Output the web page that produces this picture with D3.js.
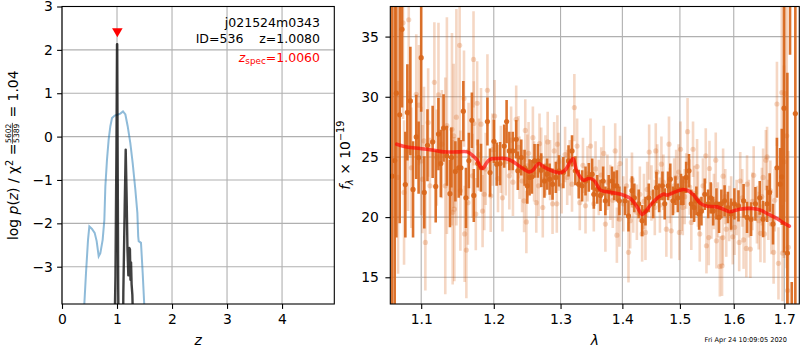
<!DOCTYPE html>
<html>
<head>
<meta charset="utf-8">
<script src="https://cdn.jsdelivr.net/npm/d3@7"></script>
<style>
  body { margin: 0; background: #fff; }
  text { font-family: "DejaVu Sans", sans-serif; }
</style>
</head>
<body>
<svg id="fig" width="800" height="350"></svg>
<script>
// ---------- redshift panel: log p(z) and scaled chi^2 ----------
const chiZ   = [0.40,0.436,0.473,0.497,0.545,0.594,0.63,0.667,0.697,0.739,0.77,0.788,0.818,0.848,0.879,0.909,0.958,1.018,1.06,1.109,1.152,1.194,1.242,1.285,1.333,1.37,1.385,1.394,1.436,1.467,1.50];
const chiVal = [-4.0,-3.15,-2.38,-2.07,-2.13,-2.22,-2.41,-2.76,-2.69,-2.38,-1.92,-1.15,-0.53,-0.07,0.24,0.43,0.485,0.51,0.53,0.58,0.51,0.24,-0.15,-0.61,-1.22,-1.76,-2.3,-2.41,-2.45,-3.15,-4.0];
const pzZ    = [0.955,0.972,0.99,1.0,1.004,1.012,1.022,1.04,1.10,1.115,1.14,1.158,1.175,1.19,1.206,1.215,1.224,1.235,1.245,1.255,1.265,1.279,1.297];
const pzVal  = [-4.5,-3.2,-0.2,2.13,2.13,-0.5,-3.5,-6,-6,-3.6,-1.6,-0.3,-1.4,-2.6,-3.2,-2.9,-2.57,-2.6,-3.3,-2.9,-3.4,-3.65,-4.5];
const zBest = 1.0080, zSpec = 1.0060, markerLevel = 2.43;
const zTicks = [0,1,2,3,4];
const pTicks = [-3,-2,-1,0,1,2,3];

// ---------- spectrum panel ----------
const darkWave = [1.0621,1.0656,1.0677,1.0720,1.0750,1.0793,1.0819,1.0858,1.0893,1.0935,
  1.0966,1.1000,1.1041,1.1083,1.1152,1.1193,1.1230,1.1262,1.1299,1.1344,
  1.1386,1.1405,1.1460,1.1506,1.1537,1.1570,1.1606,1.1647,1.1689,1.1716,
  1.1771,1.1818,1.1909,1.1946,1.2002,1.2042,1.2091,1.2151,1.2186,1.2226,
  1.2276,1.2327,1.2351,1.2402,1.2451,1.2492,1.2526,1.2561,1.2601,1.2651,
  1.2702,1.2751,1.2792,1.2831,1.2876,1.2927,1.2976,1.3044,1.3125,1.3180,
  1.3233,1.3286,1.3341,1.3395,1.3448,1.3503,1.3529,1.3584,1.3638,1.3681,
  1.3718,1.3772,1.3827,1.3864,1.3908,1.3950,1.4045,1.4103,1.4162,1.4202,
  1.4277,1.4336,1.4393,1.4450,1.4527,1.4584,1.4631,1.4689,1.4729,1.4788,
  1.4828,1.4875,1.4920,1.4962,1.5020,1.5063,1.5113,1.5164,1.5206,1.5256,
  1.5299,1.5349,1.5392,1.5454,1.5517,1.5565,1.5610,1.5671,1.5721,1.5764,
  1.5825,1.5888,1.5950,1.6012,1.6091,1.6190,1.6257,1.6336,1.6421,1.6506,
  1.6573,1.6652,1.6704,1.6771,1.6850,1.6915,1.6949,1.6994,1.7062,1.7117,1.7152,1.7226];
const darkFlux = [23.4,24.7,30.3,28.5,35.6,22.7,28.7,29.65,22.3,26.66,
  24.95,33.25,22.05,25.97,26.25,22.55,26.9,24.45,27.4,25.1,
  21.95,24.95,23.8,24.1,24.1,28.8,21.6,24.7,28.05,21.8,
  24.45,24.1,27.94,23.7,26.3,24.4,24.45,25.9,27.94,25.5,
  25.5,26.47,23.85,24.95,24.1,22.6,23.3,23.35,24.67,24.67,
  23.9,23.0,23.57,23.15,22.74,23.3,23.85,23.7,24.67,25.5,
  23.85,22.74,22.6,23.0,23.3,23.57,21.9,22.3,21.8,23.0,
  21.35,22.2,23.0,22.6,22.6,21.35,21.35,20.1,22.2,21.6,
  21.1,19.7,20.5,21.6,21.1,22.46,21.6,22.6,21.1,22.6,
  23.15,21.35,22.2,21.6,22.3,22.2,23.3,23.85,21.1,20.8,
  21.35,20.25,20.5,21.9,21.1,21.6,20.5,21.1,19.97,21.1,
  21.35,20.8,20.25,21.1,20.93,21.35,19.97,19.83,21.1,21.6,
  19.83,21.1,22.05,19.42,24.1,22.74,23.35,29.05,17.0,44,5,28.6];
const darkErr = [15,15,12,9,6.5,4.4,4,4.5,4,3.5,
  3,4.5,3,3,3,3,3,2.8,2.8,2.5,
  2.8,2.5,2.5,2.5,2.3,2.5,2.5,2.3,2.3,2.2,
  2,2,2,2,1.8,1.8,1.8,1.8,1.8,1.6,
  1.6,1.6,1.6,1.5,1.5,1.5,1.5,1.4,1.4,1.4,
  1.4,1.4,1.3,1.3,1.3,1.3,1.3,1.3,1.3,1.3,
  1.2,1.2,1.3,1.2,1.2,1.3,1.2,1.2,1.3,1.2,
  1.2,1.3,1.2,1.2,1.3,1.2,1.2,1.3,1.2,1.2,
  1.2,1.3,1.2,1.2,1.2,1.3,1.2,1.2,1.3,1.2,
  1.3,1.2,1.2,1.2,1.3,1.2,1.3,1.4,1.2,1.2,
  1.2,1.3,1.2,1.3,1.2,1.3,1.2,1.3,1.3,1.2,
  1.3,1.3,1.3,1.3,1.3,1.4,1.3,1.4,1.4,1.4,
  1.5,1.5,1.6,1.7,2.5,3,4,12,15,10.5,9.6,20];

const lightWave = [1.0699,1.0763,1.0776,1.0828,1.0837,1.0871,1.0935,1.0970,1.1000,1.1017,
  1.1037,1.1055,1.1092,1.1116,1.1175,1.1207,1.1230,1.1275,1.1322,1.1344,
  1.1413,1.1423,1.1437,1.1446,1.1474,1.1519,1.1529,1.1579,1.1588,1.1612,
  1.1634,1.1643,1.1698,1.1712,1.1716,1.1744,1.1763,1.1788,1.1818,1.1840,
  1.1864,1.1884,1.1909,1.1956,1.1981,1.2012,1.2061,1.2102,1.2126,1.2174,
  1.2226,1.2252,1.2279,1.2327,1.2361,1.2376,1.2414,1.2444,1.2462,1.2478,
  1.2492,1.2511,1.2576,1.2594,1.2627,1.2661,1.2676,1.2702,1.2726,1.2766,
  1.2801,1.2838,1.2876,1.2901,1.2942,1.2951,1.2969,1.3018,1.3071,1.3104,
  1.3144,1.3180,1.3217,1.3261,1.3303,1.3354,1.3395,1.3427,1.3476,1.3529,
  1.3557,1.3610,1.3650,1.3691,1.3718,1.3751,1.3799,1.3840,1.3880,1.3908,
  1.3929,1.3950,1.3961,1.4016,1.4071,1.4103,1.4132,1.4162,1.4184,1.4245,
  1.4297,1.4336,1.4367,1.4393,1.4423,1.4457,1.4497,1.4555,1.4572,1.4597,
  1.4645,1.4671,1.4706,1.4758,1.4805,1.4819,1.4845,1.4897,1.4932,1.4976,
  1.4990,1.5011,1.5033,1.5052,1.5086,1.5113,1.5138,1.5178,1.5206,1.5238,
  1.5262,1.5312,1.5327,1.5361,1.5420,1.5472,1.5485,1.5528,1.5541,1.5578,
  1.5625,1.5658,1.5671,1.5699,1.5736,1.5777,1.5792,1.5797,1.5838,1.5857,
  1.5913,1.5950,1.5981,1.6016,1.6055,1.6105,1.6125,1.6164,1.6190,1.6243,
  1.6257,1.6292,1.6322,1.6362,1.6387,1.6451,1.6486,1.6520,1.6549,1.6573,
  1.6599,1.6628,1.6652,1.6678,1.6717,1.6737,1.6783,1.6806,1.6850,1.6881,
  1.6949,1.6964,1.6994,1.7014,1.7049,1.7066,1.7082];
const lightFlux = [23.3,36.15,22.05,25.5,36.4,24.1,30.2,29.3,24.67,23.15,
  26.33,17.9,27.86,22.6,31.2,24.95,30.15,26.06,22.6,27.6,
  27.3,20.4,26.75,20.66,28.3,34.27,22.2,29.85,18.6,17.26,
  21.2,25.5,23.43,33.1,27.78,20.25,29.46,25.2,27.72,20.5,
  21.9,24.0,30.54,21.77,25.6,28.4,23.2,24.8,21.6,24.6,
  23.43,26.4,22.9,28.13,25.8,24.1,23.0,21.35,27.2,19.6,
  24.26,25.3,26.6,23.8,21.2,22.6,26.1,24.95,20.8,24.3,
  26.25,23.9,21.1,25.5,21.1,26.06,24.6,22.6,25.2,23.3,
  24.1,22.74,29.1,25.9,21.2,24.3,20.94,23.6,25.9,21.1,
  24.0,22.46,23.5,25.29,19.42,22.9,22.05,21.4,25.5,18.5,
  22.0,19.83,24.45,21.1,22.6,17.07,19.7,23.07,21.0,20.4,
  21.9,18.6,21.3,18.73,22.3,25.4,22.0,20.8,25.5,23.75,
  21.0,24.4,22.9,19.0,26.06,21.8,18.86,22.6,23.3,23.75,
  18.73,25.64,21.14,20.8,21.7,23.0,27.1,22.5,19.56,25.64,
  21.97,24.2,21.5,18.6,22.6,25.09,17.62,18.3,24.04,20.5,
  21.3,24.73,18.03,20.6,15.9,15.95,18.3,23.4,21.7,19.0,
  20.3,21.1,18.37,19.15,20.8,17.9,23.0,21.6,18.1,17.4,
  22.74,20.7,17.34,21.3,23.48,20.2,19.7,18.65,21.7,23.3,
  18.6,24.73,25.0,20.6,22.2,19.42,17.07,21.4,29.4,16.16,
  30.35,17.0,24.6,30.27,26.75,13.9,17.49];
const lightErr = [8,8,6,5,8,5,5,5,4.5,4.5,
  4.5,4,4.5,4,5,4,6,4.5,9,9,
  8,6,6,6,9,9,5,4,4,4,
  3.5,4,3.5,4,3.5,3,3.5,3,3,3,
  3,3,3,3,3,3,2.8,2.8,2.8,2.8,
  2.8,2.8,2.8,2.8,2.6,2.6,2.6,2.6,2.6,2.6,
  2.6,2.6,2.6,2.5,2.5,2.5,2.5,2.5,2.5,2.5,
  2.5,2.5,2.5,2.4,2.4,2.4,2.4,2.3,2.3,2.3,
  2.3,2.3,2.8,2.3,2.3,2.3,2.3,2.3,2.3,2.3,
  2.3,2.3,2.3,2.3,2.3,2.3,2.3,2.3,2.3,2.3,
  2.3,2.3,2.3,2.3,2.3,2.5,2.3,2.3,2.3,2.3,
  2.3,2.3,2.3,2.3,2.3,2.3,2.3,2.3,2.3,2.3,
  2.3,2.3,2.3,2.3,2.3,2.3,2.3,2.3,2.3,2.3,
  2.3,2.3,2.3,2.3,2.3,2.3,2.8,2.3,2.3,2.3,
  2.3,2.3,2.3,2.3,2.3,2.3,2.3,2.3,2.3,2.3,
  2.3,2.3,2.3,2.3,2.5,2.5,2.3,2.3,2.3,2.3,
  2.3,2.3,2.3,2.3,2.3,2.4,2.4,2.4,2.4,2.4,
  2.4,2.4,2.4,2.4,2.4,2.4,2.4,2.4,2.4,2.4,
  2.4,2.5,2.5,2.5,2.5,2.5,2.6,2.6,3.5,3,
  8,4,8,9,11,6,8];

const modelWave = [1.0682,1.0811,1.0983,1.1165,1.1303,1.1488,1.1625,1.1694,1.1763,1.1809,1.1846,1.1891,1.1946,1.2042,1.2166,1.2267,1.2391,1.2516,1.2567,1.2666,1.2741,1.2867,1.2991,1.3071,1.3152,1.3196,1.3261,1.3367,1.3448,1.3529,1.3638,1.3746,1.3908,1.4016,1.4132,1.4249,1.4336,1.4393,1.4480,1.4624,1.4711,1.4770,1.4914,1.5063,1.5156,1.5249,1.5374,1.5498,1.5684,1.5838,1.5931,1.6091,1.6356,1.6520,1.6652,1.6850,1.6980,1.7103];
const modelFlux = [26.06,25.83,25.7,25.56,25.42,25.42,25.42,25.15,24.73,24.17,24.04,24.45,24.8,24.87,24.87,24.65,24.17,23.76,23.85,24.45,24.17,23.85,23.68,23.9,24.59,24.87,23.76,23.07,23.21,23.07,22.24,22.1,21.97,21.83,21.55,20.85,20.22,20.44,21.0,21.68,21.91,21.83,22.1,22.3,22.18,21.83,21.14,20.91,20.85,20.58,20.44,20.64,20.72,20.58,20.3,19.89,19.53,19.25];
const waveTicks = [1.1,1.2,1.3,1.4,1.5,1.6,1.7];
const fluxTicks = [15,20,25,30,35];

// ---------- figure ----------
const svg = d3.select("#fig");
svg.append("rect").attr("width", 800).attr("height", 350).attr("fill", "#fff");

const LP = {x0: 62, x1: 334.3, y0: 6.5, y1: 304};
const RP = {x0: 390.3, x1: 799.3, y0: 6.5, y1: 304};
const TICK = 13.9, GRID = "#b0b0b0";
const defs = svg.append("defs");
[["clipL", LP], ["clipR", RP]].forEach(([id, p]) => {
  defs.append("clipPath").attr("id", id).append("rect")
    .attr("x", p.x0).attr("y", p.y0).attr("width", p.x1 - p.x0).attr("height", p.y1 - p.y0);
});

function styleAxis(g) {
  g.select(".domain").remove();
  g.selectAll(".tick line").attr("stroke", "#000").attr("stroke-width", 1.1);
  g.selectAll(".tick text").attr("fill", "#000").attr("font-size", TICK + "px")
    .attr("font-family", "DejaVu Sans");
}
function drawGrid(p, xs, xt, ys, yt) {
  const g = svg.append("g").attr("stroke", GRID).attr("stroke-width", 1.1);
  xt.forEach(v => g.append("line").attr("x1", xs(v)).attr("x2", xs(v)).attr("y1", p.y0).attr("y2", p.y1));
  yt.forEach(v => g.append("line").attr("x1", p.x0).attr("x2", p.x1).attr("y1", ys(v)).attr("y2", ys(v)));
}
function frame(p) {
  svg.append("rect").attr("x", p.x0).attr("y", p.y0).attr("width", p.x1 - p.x0).attr("height", p.y1 - p.y0)
    .attr("fill", "none").attr("stroke", "#000").attr("stroke-width", 1.1);
}

// ---- left panel ----
const xz = d3.scaleLinear().domain([0, 4.95]).range([LP.x0, LP.x1]);
const yz = d3.scaleLinear().domain([-3.86, 3]).range([LP.y1, LP.y0]);
drawGrid(LP, xz, zTicks, yz, pTicks);

const gl = svg.append("g").attr("clip-path", "url(#clipL)");
gl.append("path")
  .attr("d", d3.line().x((d, i) => xz(chiZ[i])).y(d => yz(d))(chiVal))
  .attr("fill", "none").attr("stroke", "#1f77b4").attr("stroke-opacity", 0.5).attr("stroke-width", 2);
gl.append("path")
  .attr("d", d3.line().x((d, i) => xz(pzZ[i])).y(d => yz(d))(pzVal))
  .attr("fill", "none").attr("stroke", "#000").attr("stroke-opacity", 0.75)
  .attr("stroke-width", 2.4).attr("stroke-linejoin", "round");

svg.append("path")
  .attr("d", d3.symbol(d3.symbolTriangle, 48)())
  .attr("transform", `translate(${xz(zSpec)},${yz(markerLevel)}) rotate(180)`)
  .attr("fill", "red");

svg.append("g").attr("transform", `translate(0,${LP.y1})`)
  .call(d3.axisBottom(xz).tickValues(zTicks).tickFormat(d3.format("d")).tickSize(4.9).tickPadding(5.5))
  .call(styleAxis);
svg.append("g").attr("transform", `translate(${LP.x0},0)`)
  .call(d3.axisLeft(yz).tickValues(pTicks).tickFormat(d3.format("d")).tickSize(4.9).tickPadding(4.2))
  .call(styleAxis);
frame(LP);

// annotation block
svg.append("text").attr("x", 320).attr("y", 27.3).attr("text-anchor", "end")
  .attr("font-size", "12.5px").text("j021524m0343");
svg.append("text").attr("x", 320).attr("y", 42.7).attr("text-anchor", "end")
  .attr("font-size", "12.5px").style("white-space", "pre")
  .text("ID=536    z=" + zBest.toFixed(4));
const tz = svg.append("text").attr("x", 320).attr("y", 61.7).attr("text-anchor", "end")
  .attr("font-size", "12.5px").attr("fill", "red");
tz.append("tspan").attr("font-style", "italic").text("z");
tz.append("tspan").attr("font-size", "8.8px").attr("dy", 2.6).text("spec");
tz.append("tspan").attr("dy", -2.6).text("=" + zSpec.toFixed(4));

// axis labels, left
svg.append("text").attr("x", (LP.x0 + LP.x1) / 2).attr("y", 345).attr("text-anchor", "middle")
  .attr("font-size", TICK + "px").attr("font-style", "italic").text("z");

const gy = svg.append("g").attr("transform", `translate(18,${(LP.y0 + LP.y1) / 2}) rotate(-90)`);
const gyi = gy.append("g");
const t1 = gyi.append("text").attr("font-size", TICK + "px");
t1.append("tspan").text("log ");
t1.append("tspan").attr("font-style", "italic").text("p");
t1.append("tspan").text("(");
t1.append("tspan").attr("font-style", "italic").text("z");
t1.append("tspan").text(") / \u03c7");
t1.append("tspan").attr("font-size", "9.7px").attr("dy", -5.5).text("2");
t1.append("tspan").attr("dy", 5.5).text(" = ");
const w1 = t1.node().getComputedTextLength();
const num = gyi.append("text").attr("font-size", "7.6px").attr("text-anchor", "middle").attr("y", -6.9).text("5602");
const den = gyi.append("text").attr("font-size", "7.6px").attr("text-anchor", "middle").attr("y", 0.6).text("5389");
const wf = Math.max(num.node().getComputedTextLength(), den.node().getComputedTextLength()) + 1.5;
num.attr("x", w1 + wf / 2); den.attr("x", w1 + wf / 2);
gyi.append("line").attr("x1", w1).attr("x2", w1 + wf).attr("y1", -5.6).attr("y2", -5.6)
  .attr("stroke", "#000").attr("stroke-width", 0.7);
const t2 = gyi.append("text").attr("font-size", TICK + "px").attr("x", w1 + wf + 1).style("white-space", "pre").text(" = 1.04");
const total = w1 + wf + 1 + t2.node().getComputedTextLength();
gyi.attr("transform", `translate(${-total / 2},0)`);

// ---- right panel ----
const xl = d3.scaleLog().domain([1.06, 1.7308]).range([RP.x0, RP.x1]);
const yl = d3.scaleLinear().domain([12.78, 37.5]).range([RP.y1, RP.y0]);
drawGrid(RP, xl, waveTicks, yl, fluxTicks);

const gr = svg.append("g").attr("clip-path", "url(#clipR)");
const ORANGE = "#d9661a";

function errorSet(wave, flux, err, opacity, barW, rad) {
  const g = gr.append("g").attr("opacity", 1);
  wave.forEach((w, i) => {
    g.append("line").attr("x1", xl(w)).attr("x2", xl(w))
      .attr("y1", yl(flux[i] - err[i])).attr("y2", yl(flux[i] + err[i]))
      .attr("stroke", ORANGE).attr("stroke-width", barW).attr("stroke-opacity", opacity);
    g.append("circle").attr("cx", xl(w)).attr("cy", yl(flux[i])).attr("r", rad)
      .attr("fill", ORANGE).attr("fill-opacity", opacity);
  });
}
errorSet(lightWave, lightFlux, lightErr, 0.26, 2.6, 2.6);
errorSet(darkWave, darkFlux, darkErr, 0.92, 2.6, 2.6);

gr.append("path")
  .attr("d", d3.line().x((d, i) => xl(modelWave[i])).y(d => yl(d)).curve(d3.curveCatmullRom.alpha(0.5))(modelFlux))
  .attr("fill", "none").attr("stroke", "red").attr("stroke-opacity", 0.65)
  .attr("stroke-width", 3.6).attr("stroke-linecap", "round");

svg.append("g").attr("transform", `translate(0,${RP.y1})`)
  .call(d3.axisBottom(xl).tickValues(waveTicks).tickFormat(d3.format(".1f")).tickSize(4.9).tickPadding(5.5))
  .call(styleAxis);
svg.append("g").attr("transform", `translate(${RP.x0},0)`)
  .call(d3.axisLeft(yl).tickValues(fluxTicks).tickFormat(d3.format("d")).tickSize(4.9).tickPadding(6.5))
  .call(styleAxis);
frame(RP);

svg.append("text").attr("x", (RP.x0 + RP.x1) / 2).attr("y", 345).attr("text-anchor", "middle")
  .attr("font-size", TICK + "px").attr("font-style", "italic").text("\u03bb");

const gfy = svg.append("g").attr("transform", `translate(350,${(RP.y0 + RP.y1) / 2}) rotate(-90)`);
const tf = gfy.append("text").attr("text-anchor", "middle").attr("font-size", TICK + "px");
tf.append("tspan").attr("font-style", "italic").text("f");
tf.append("tspan").attr("font-size", "9.7px").attr("font-style", "italic").attr("dy", 3).text("\u03bb");
tf.append("tspan").attr("dy", -3).text(" \u00d7 10");
tf.append("tspan").attr("font-size", "9.7px").attr("dy", -6).text("\u221219");

svg.append("text").attr("x", 787).attr("y", 342).attr("text-anchor", "end")
  .attr("font-size", "6.6px").text("Fri Apr 24 10:09:05 2020");
</script>
</body>
</html>
